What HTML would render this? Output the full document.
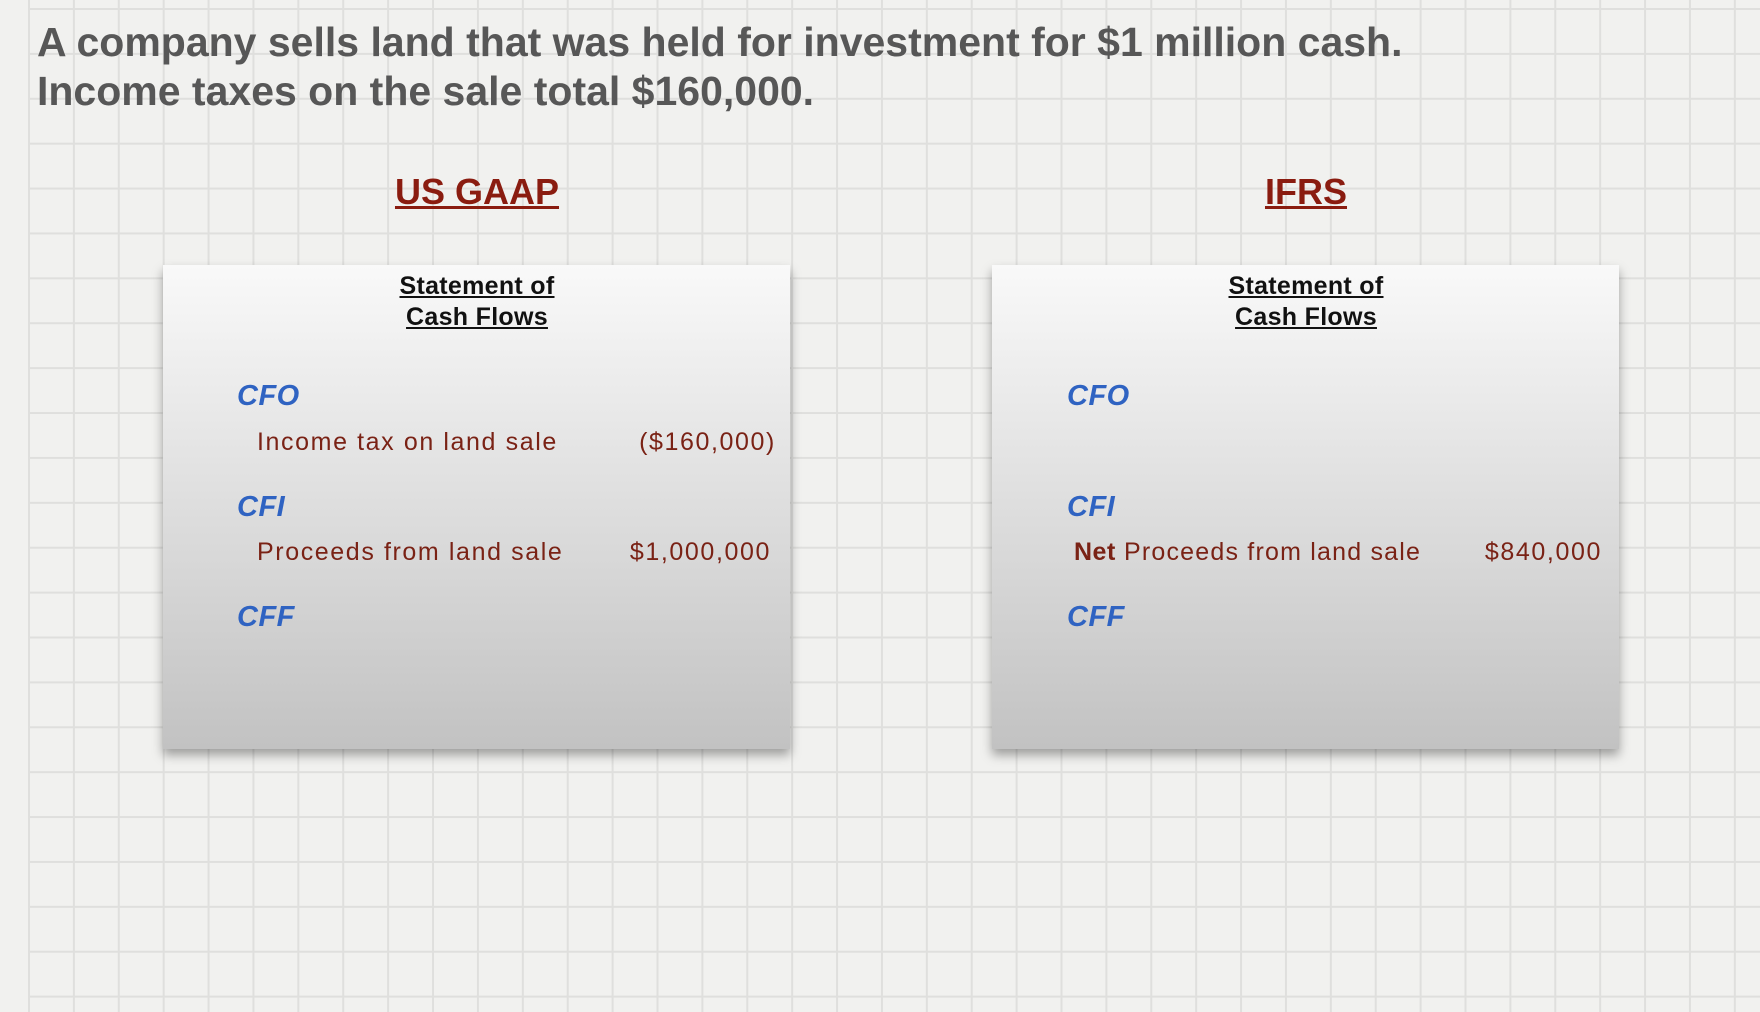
<!DOCTYPE html>
<html><head><meta charset="utf-8"><style>
html,body{margin:0;padding:0}
body{width:1760px;height:1012px;position:relative;overflow:hidden;background-color:#f1f1ef;
background-image:linear-gradient(to right,#dfdfdd 2px,transparent 2px),linear-gradient(to bottom,#dfdfdd 2px,transparent 2px);
background-size:44.9px 44.9px;background-position:28px 8px;font-family:"Liberation Sans",sans-serif}
.mask{position:absolute;left:0;top:0;width:28px;height:1012px;background:#f1f1ef}
.t{position:absolute;white-space:nowrap}
.title{left:37px;font-size:41px;font-weight:bold;color:#575757}
.hd{font-size:36px;font-weight:bold;color:#8a1c10;text-decoration:underline;transform:translateX(-50%)}
.card{position:absolute;top:265px;width:627px;height:484px;background:linear-gradient(#f9f9f9,#e6e6e6 35%,#c2c2c2);box-shadow:0 6px 10px rgba(0,0,0,.35)}
.st{font-size:25px;font-weight:bold;color:#111;text-decoration:underline;text-align:center;line-height:31px;transform:translateX(-50%);letter-spacing:0.3px}
.sec{font-size:29px;font-weight:bold;font-style:italic;color:#2f63c2;letter-spacing:0.5px}
.it{font-size:25px;color:#7a2215;letter-spacing:1.6px}
.v{font-size:25px;color:#7a2215;transform:translateX(-100%);letter-spacing:1.6px}
</style></head><body>
<div class="mask"></div>
<div class="t title" style="top:19px">A company sells land that was held for investment for $1 million cash.</div>
<div class="t title" style="top:68px">Income taxes on the sale total $160,000.</div>
<div class="t hd" style="left:477px;top:171px">US GAAP</div>
<div class="t hd" style="left:1306px;top:171px">IFRS</div>
<div class="card" style="left:163px"></div>
<div class="card" style="left:992px"></div>
<div class="t st" style="left:477px;top:271px">Statement of<br>Cash Flows</div>
<div class="t st" style="left:1306px;top:271px">Statement of<br>Cash Flows</div>
<div class="t sec" style="left:237px;top:380px">CFO</div>
<div class="t it" style="left:257px;top:428px">Income tax on land sale</div>
<div class="t v" style="left:776px;top:428px">($160,000)</div>
<div class="t sec" style="left:237px;top:491px">CFI</div>
<div class="t it" style="left:257px;top:538px">Proceeds from land sale</div>
<div class="t v" style="left:771px;top:538px">$1,000,000</div>
<div class="t sec" style="left:237px;top:601px">CFF</div>
<div class="t sec" style="left:1067px;top:380px">CFO</div>
<div class="t sec" style="left:1067px;top:491px">CFI</div>
<div class="t it" style="left:1074px;top:538px;letter-spacing:1.2px"><b style="letter-spacing:0.5px">Net</b> Proceeds from land sale</div>
<div class="t v" style="left:1602px;top:538px">$840,000</div>
<div class="t sec" style="left:1067px;top:601px">CFF</div>
</body></html>
